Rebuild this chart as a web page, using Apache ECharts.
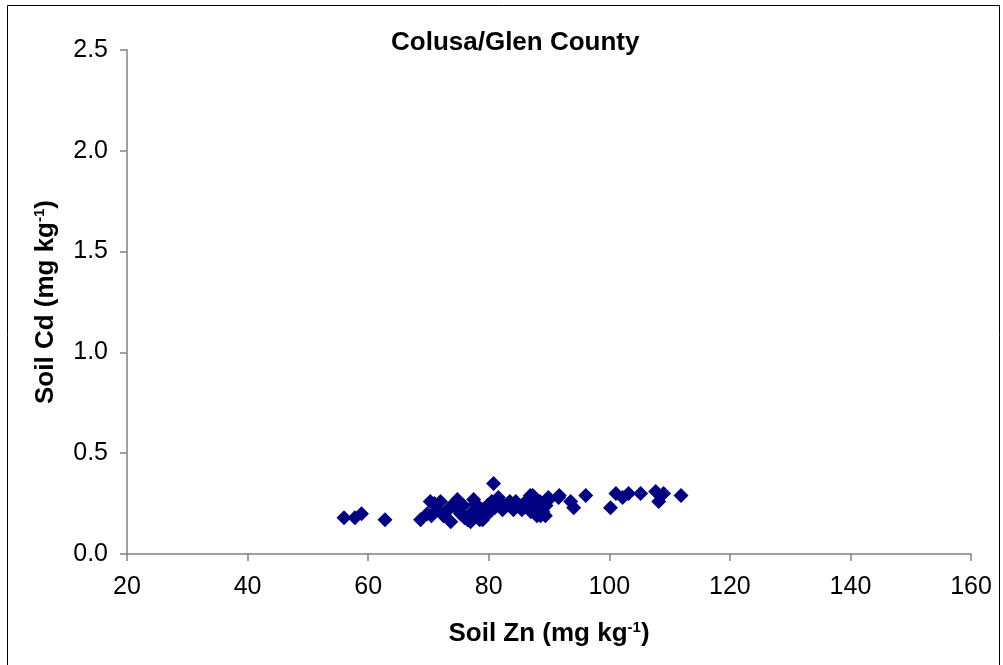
<!DOCTYPE html>
<html>
<head>
<meta charset="utf-8">
<script src="https://cdn.jsdelivr.net/npm/echarts@6/dist/echarts.min.js"></script>
<style>
  html, body { margin: 0; padding: 0; background: #fff; }
  #main { width: 1003px; height: 665px; }
</style>
</head>
<body>
<div id="main"></div>
<script>
// soil Zn (x) and soil Cd (y)
let znValues = [
    56.0, 57.8, 58.9, 62.8,
    68.7, 69.8, 70.3, 70.5, 71.0, 71.5, 72.0, 72.5, 73.0, 73.5, 73.7, 74.0,
    74.5, 74.8, 75.0, 75.3, 75.8, 76.0, 76.5, 77.0, 77.3, 77.5, 77.8, 78.0,
    78.5, 79.0, 79.0, 79.3, 79.8, 80.2, 80.5, 80.8, 81.0, 81.5, 81.6, 82.0,
    82.3, 83.0, 83.5, 84.0, 84.1, 84.5, 85.0, 85.5, 86.0, 86.5, 86.9, 87.0,
    87.3, 87.5, 88.0, 88.0, 88.5, 88.6, 89.0, 89.4, 89.5, 89.9, 90.0, 91.6,
    91.7, 93.6, 94.1,
    96.1, 100.2, 101.1, 102.2, 103.2, 105.2, 107.7, 108.2, 109.0, 111.9
];
let cdValues = [
    0.18, 0.18, 0.20, 0.17,
    0.17, 0.20, 0.26, 0.19, 0.25, 0.22, 0.26, 0.19, 0.21, 0.23, 0.16, 0.24,
    0.25, 0.27, 0.22, 0.20, 0.24, 0.18, 0.17, 0.16, 0.21, 0.27, 0.25, 0.19,
    0.17, 0.22, 0.17, 0.19, 0.24, 0.21, 0.26, 0.35, 0.23, 0.27, 0.28, 0.25,
    0.22, 0.24, 0.26, 0.23, 0.22, 0.26, 0.24, 0.22, 0.25, 0.27, 0.29, 0.21,
    0.29, 0.25, 0.23, 0.19, 0.26, 0.19, 0.21, 0.19, 0.24, 0.28, 0.27, 0.28,
    0.29, 0.26, 0.23,
    0.29, 0.23, 0.30, 0.28, 0.30, 0.30, 0.31, 0.26, 0.30, 0.29
];

let points = znValues.map(function (x, i) { return [x, cdValues[i]]; });

const font = 'Liberation Sans, Arial, sans-serif';
const nameRich = {
    b: { fontSize: 26, fontWeight: 'bold', color: '#000', fontFamily: font },
    s: { fontSize: 15, fontWeight: 'bold', color: '#000', verticalAlign: 'bottom', padding: [0, 0, 12, 0], fontFamily: font }
};

let myChart = echarts.init(document.getElementById('main'), null, {renderer: 'canvas'});

const option = {
    backgroundColor: '#fff',
    animation: false,
    textStyle: { fontFamily: font },
    title: {
        text: 'Colusa/Glen County',
        left: 386,
        top: 25,
        textStyle: { fontSize: 26, fontWeight: 'bold', color: '#000', fontFamily: font }
    },
    graphic: [{
        type: 'rect',
        shape: { x: 7.5, y: 5.5, width: 992, height: 680 },
        style: { fill: 'none', stroke: '#000', lineWidth: 1 },
        silent: true
    }],
    grid: { left: 127, right: 32, top: 50, bottom: 111 },
    xAxis: {
        type: 'value',
        min: 20, max: 160, interval: 20,
        splitLine: { show: false },
        axisLine: { lineStyle: { color: '#808080', width: 1.5 } },
        axisTick: { length: 7, lineStyle: { color: '#808080', width: 1.5 } },
        axisLabel: { fontSize: 25, color: '#000', margin: 21 },
        name: '{b|Soil Zn (mg kg}{s|-1}{b|)}',
        nameLocation: 'middle',
        nameGap: 66,
        nameTextStyle: { rich: nameRich }
    },
    yAxis: {
        type: 'value',
        min: 0, max: 2.5, interval: 0.5,
        splitLine: { show: false },
        axisLine: { show: true, lineStyle: { color: '#808080', width: 1.5 } },
        axisTick: { show: true, length: 7, lineStyle: { color: '#808080', width: 1.5 } },
        axisLabel: {
            fontSize: 25, color: '#000', margin: 19,
            formatter: function (v) { return v.toFixed(1); }
        },
        name: '{b|Soil Cd (mg kg}{s|-1}{b|)}',
        nameLocation: 'middle',
        nameGap: 68,
        nameTextStyle: { rich: nameRich }
    },
    series: [{
        type: 'scatter',
        symbol: 'diamond',
        symbolSize: 15,
        itemStyle: { color: '#000080', opacity: 1 },
        data: points
    }]
};
myChart.setOption(option, true);
</script>
</body>
</html>
